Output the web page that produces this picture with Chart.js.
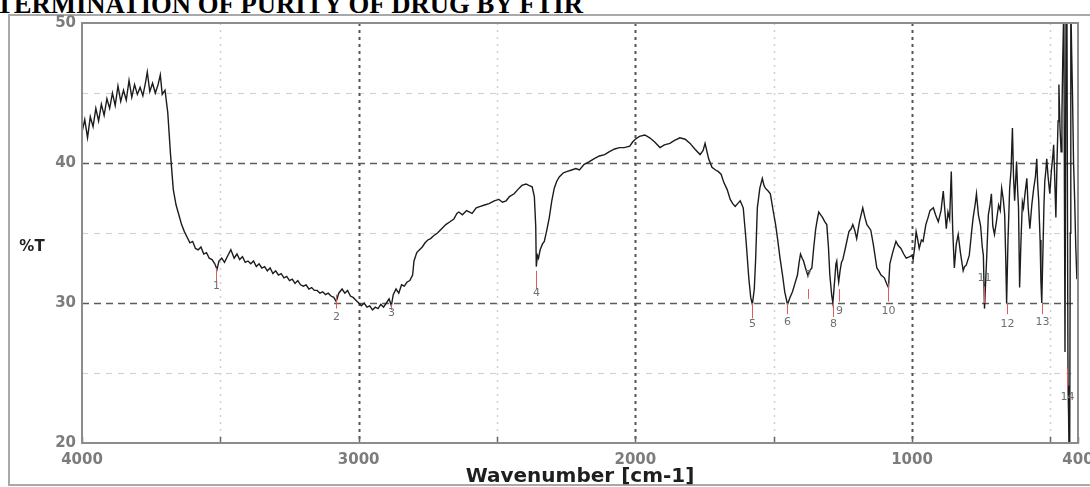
<!DOCTYPE html>
<html>
<head>
<meta charset="utf-8">
<script src="https://cdn.jsdelivr.net/npm/chart.js@4.4.0/dist/chart.umd.min.js"></script>
<style>
  html, body { margin: 0; padding: 0; background: #ffffff; }
  body { width: 1090px; height: 487px; overflow: hidden; position: relative; }
  #frame { position: absolute; left: 8px; top: 14px; width: 1100px; height: 472px; border: 2px solid #a9a9a9; box-sizing: border-box; }
  #title { position: absolute; right: 507px; top: -9px; width: max-content; white-space: nowrap;
           font-family: "Liberation Serif", "Times New Roman", serif; font-weight: bold; font-size: 26.7px; line-height: 26px; color: #000; }
  #chartBox { position: absolute; left: 0; top: 0; width: 1090px; height: 487px; }
</style>
</head>
<body>
<div id="frame"></div>
<div id="title">DETERMINATION OF PURITY OF DRUG BY FTIR</div>
<div id="chartBox"><canvas id="c" width="1090" height="487"></canvas></div>
<script>
// ---- data ----
const wavenumbers = [
  4000,3990,3980,3970,3960,3950,3940,3930,3920,3910,
  3900,3890,3880,3870,3860,3850,3840,3830,3820,3810,
  3800,3790,3780,3770,3764,3755,3745,3735,3725,3717,
  3710,3700,3690,3680,3670,3660,3650,3640,3630,3620,
  3610,3600,3590,3580,3570,3560,3550,3540,3530,3520,
  3512,3505,3495,3485,3475,3462,3450,3440,3430,3420,
  3410,3400,3390,3380,3370,3360,3350,3340,3330,3320,
  3310,3300,3290,3280,3270,3260,3250,3240,3230,3220,
  3210,3200,3190,3180,3170,3160,3150,3140,3130,3120,
  3110,3100,3090,3081,3072,3060,3050,3040,3030,3020,
  3010,3000,2990,2980,2970,2960,2950,2940,2930,2920,
  2910,2900,2890,2882,2875,2865,2855,2845,2835,2825,
  2815,2805,2800,2790,2780,2770,2760,2750,2740,2729,
  2715,2700,2685,2670,2656,2645,2638,2625,2610,2590,
  2575,2560,2545,2529,2510,2493,2480,2467,2455,2438,
  2425,2410,2395,2385,2373,2365,2360,2358,2354,2350,
  2344,2336,2329,2320,2311,2302,2293,2284,2275,2260,
  2246,2230,2215,2202,2185,2166,2150,2130,2111,2095,
  2075,2057,2040,2020,2010,2000,1985,1966,1957,1948,
  1930,1911,1895,1875,1860,1839,1820,1802,1785,1766,
  1755,1748,1735,1723,1710,1701,1690,1680,1668,1657,
  1648,1639,1630,1621,1610,1600,1590,1583,1577,1570,
  1565,1559,1550,1541,1535,1530,1520,1512,1501,1493,
  1486,1477,1468,1460,1450,1441,1432,1423,1414,1408,
  1403,1397,1392,1385,1377,1370,1362,1355,1348,1342,
  1337,1330,1323,1315,1308,1302,1297,1290,1286,1280,
  1275,1272,1268,1265,1260,1255,1250,1240,1228,1220,
  1214,1207,1200,1190,1178,1170,1163,1156,1149,1140,
  1127,1120,1112,1100,1090,1085,1080,1070,1058,1050,
  1040,1030,1021,1010,1000,996,990,985,980,974,
  966,960,950,942,935,923,915,905,895,887,
  882,876,870,864,858,853,847,840,833,825,
  815,810,804,793,785,779,772,767,760,752,
  746,742,738,731,724,718,713,708,702,695,
  687,681,676,670,665,661,658,653,647,642,
  637,633,629,626,622,618,615,611,606,601,
  597,591,585,580,574,567,560,554,549,546,
  542,537,534,531,527,523,520,516,513,508,
  502,496,491,488,484,480,476,472,469,465,
  461,458,455,452,451,449,447,445,443,440,
  438,436,434,432,430,428,426,423,420,416,
  412,408,404,400
];
const transmittance = [
  42.2,43.1,41.8,43.3,42.6,43.9,43.0,44.2,43.4,44.6,
  43.9,45.0,44.1,45.5,44.4,45.2,44.5,45.9,44.7,45.6,
  44.9,45.4,44.8,45.8,46.5,45.1,45.7,45.0,45.6,46.3,
  44.9,45.2,43.6,40.6,38.1,37.0,36.3,35.6,35.1,34.7,
  34.3,34.4,33.9,33.8,34.0,33.5,33.6,33.2,33.1,32.8,
  32.4,33.0,33.2,32.9,33.3,33.8,33.2,33.5,33.1,33.3,
  32.9,33.0,32.8,33.0,32.6,32.8,32.5,32.6,32.3,32.5,
  32.1,32.3,32.0,32.1,31.8,31.9,31.6,31.7,31.4,31.6,
  31.3,31.2,31.3,31.0,31.1,30.9,30.9,30.7,30.8,30.6,
  30.7,30.5,30.4,30.1,30.7,31.0,30.7,30.9,30.5,30.4,
  30.2,30.0,29.8,30.0,29.7,29.8,29.5,29.7,29.6,29.9,
  29.7,30.0,30.3,29.8,30.6,31.0,30.7,31.3,31.2,31.5,
  31.6,32.0,33.0,33.6,33.8,34.0,34.3,34.5,34.6,34.8,
  35.0,35.3,35.6,35.8,36.0,36.4,36.5,36.3,36.6,36.4,
  36.8,36.9,37.0,37.1,37.3,37.4,37.2,37.3,37.6,37.8,
  38.1,38.4,38.5,38.4,38.3,37.6,35.5,32.6,33.4,33.2,
  33.8,34.2,34.4,35.2,36.1,37.3,38.2,38.7,39.0,39.3,
  39.4,39.5,39.6,39.5,39.9,40.1,40.3,40.5,40.6,40.8,
  41.0,41.1,41.1,41.2,41.5,41.7,41.9,42.0,41.9,41.8,
  41.5,41.1,41.3,41.4,41.6,41.8,41.7,41.4,41.0,40.6,
  40.9,41.4,40.3,39.7,39.5,39.4,39.2,38.6,38.1,37.4,
  37.1,36.9,37.1,37.3,36.8,34.5,31.8,30.4,29.9,31.0,
  33.2,36.8,38.2,38.9,38.4,38.2,38.0,37.8,36.5,35.6,
  34.6,33.2,32.0,30.8,29.9,30.4,30.8,31.4,32.0,32.9,
  33.5,33.2,33.0,32.5,32.0,32.3,32.5,34.0,35.3,36.0,
  36.5,36.3,36.1,35.8,35.6,34.0,32.0,30.5,30.0,31.5,
  32.8,33.0,32.0,31.5,32.3,32.9,33.1,34.0,35.1,35.3,
  35.6,35.2,34.6,35.8,36.8,36.1,35.6,35.4,35.2,34.2,
  32.5,32.3,32.0,31.8,31.3,31.1,32.8,33.6,34.4,34.1,
  33.9,33.5,33.2,33.3,33.4,33.1,34.0,35.1,34.6,33.9,
  34.5,34.4,35.6,36.1,36.6,36.8,36.3,35.8,36.6,38.0,
  36.8,35.3,36.5,36.0,39.4,35.3,32.5,34.2,34.9,33.6,
  32.3,32.6,32.7,33.4,35.0,36.1,37.0,37.8,36.3,35.5,
  34.0,33.4,29.6,32.8,36.3,37.0,37.8,35.5,34.9,35.8,
  37.0,36.6,38.2,37.4,36.3,33.0,30.0,34.5,38.2,39.5,
  42.5,39.0,37.3,38.5,40.1,38.0,36.8,31.1,34.5,37.2,
  36.8,37.9,38.9,36.8,35.3,37.0,38.2,39.0,40.3,38.6,
  37.3,34.5,31.5,30.0,33.5,37.0,38.7,39.5,40.3,39.0,
  37.8,39.5,40.5,41.3,38.8,36.1,40.0,43.0,45.6,42.5,
  40.8,43.5,47.5,50.5,51.0,38.0,26.5,40.0,52.0,51.0,
  36.0,24.1,22.0,18.5,19.0,35.0,51.5,48.0,45.0,40.0,
  37.3,34.0,31.7,33.0
];

// axis ticks and grid values
const xTickValues = [4000, 3500, 3000, 2500, 2000, 1500, 1000, 500, 400];
const xLabelValues = [4000, 3000, 2000, 1000, 400];
const xMajorGrid = [3000, 2000, 1000];
const xMinorGrid = [3500, 2500, 1500, 500];
const yLabelValues = [20, 30, 40, 50];
const yMajorGrid = [30, 40];
const yMinorGrid = [25, 35, 45];

// peak annotations
const peakNumbers     = ['1','2','3','4','5','6','7','8','9','10','11','12','13','14'];
const peakWavenumbers = [3515, 3081, 2882, 2358, 1577, 1450, 1377, 1286, 1265, 1085, 738, 658, 531, 440];
const peakLineTop     = [32.5, 30.6, 29.9, 32.3, 30.0, 30.0, 31.0, 30.0, 31.0, 31.4, 31.2, 30.0, 30.0, 25.3];
const peakLineBottom  = [31.5, 29.6, 29.5, 31.0, 28.9, 29.2, 30.3, 29.0, 30.1, 30.1, 30.0, 29.2, 29.2, 23.9];
const peakLabelValues = [31.2, 29.0, 29.3, 30.7, 28.5, 28.6, 32.0, 28.5, 29.4, 29.4, 31.8, 28.5, 28.6, 23.3];

const points = wavenumbers.map((w, i) => ({ x: w, y: transmittance[i] }));

function vline(ctx, x, y0, y1, color, width, dash) {
  ctx.save();
  ctx.strokeStyle = color; ctx.lineWidth = width; ctx.setLineDash(dash);
  ctx.beginPath(); ctx.moveTo(x, y0); ctx.lineTo(x, y1); ctx.stroke();
  ctx.restore();
}
function hline(ctx, y, x0, x1, color, width, dash) {
  ctx.save();
  ctx.strokeStyle = color; ctx.lineWidth = width; ctx.setLineDash(dash);
  ctx.beginPath(); ctx.moveTo(x0, y); ctx.lineTo(x1, y); ctx.stroke();
  ctx.restore();
}

const decorPlugin = {
  id: 'ftirDecor',
  beforeDatasetsDraw(chart) {
    const ctx = chart.ctx, a = chart.chartArea;
    const xs = chart.scales.x, ys = chart.scales.y;
    yMinorGrid.forEach(v => hline(ctx, Math.round(ys.getPixelForValue(v)) + 0.5, a.left, a.right, '#d2d2d2', 1.2, [6, 6]));
    yMajorGrid.forEach(v => hline(ctx, Math.round(ys.getPixelForValue(v)) + 0.5, a.left, a.right, '#5c5c5c', 1.3, [7, 5]));
    xMinorGrid.forEach(v => vline(ctx, Math.round(xs.getPixelForValue(v)) + 0.5, a.top, a.bottom, '#d0d0d0', 1.5, [2, 5]));
    xMajorGrid.forEach(v => vline(ctx, Math.round(xs.getPixelForValue(v)) + 0.5, a.top, a.bottom, '#555555', 2, [3, 4]));
    xTickValues.forEach(v => vline(ctx, Math.round(xs.getPixelForValue(v)) + 0.5, a.bottom, a.bottom - 6, '#666666', 1.5, []));
  },
  afterDatasetsDraw(chart) {
    const ctx = chart.ctx, a = chart.chartArea;
    const xs = chart.scales.x, ys = chart.scales.y;
    // peak markers
    ctx.save();
    ctx.font = '11px "DejaVu Sans", sans-serif';
    ctx.textAlign = 'center';
    ctx.textBaseline = 'middle';
    peakNumbers.forEach((n, i) => {
      const px = Math.round(xs.getPixelForValue(peakWavenumbers[i])) + 0.5;
      vline(ctx, px, ys.getPixelForValue(peakLineTop[i]), ys.getPixelForValue(peakLineBottom[i]), '#e25b5b', 1, []);
      ctx.fillStyle = '#707070';
      ctx.fillText(n, px, ys.getPixelForValue(peakLabelValues[i]));
    });
    ctx.restore();
    // plot frame
    ctx.save();
    ctx.strokeStyle = '#8c8c8c'; ctx.lineWidth = 2; ctx.setLineDash([]);
    ctx.strokeRect(a.left, a.top, a.right - a.left, a.bottom - a.top);
    ctx.restore();
    // y axis title
    ctx.save();
    ctx.font = 'bold 15px "DejaVu Sans", sans-serif';
    ctx.fillStyle = '#222222';
    ctx.textAlign = 'center';
    ctx.textBaseline = 'middle';
    ctx.fillText('%T', 32, 247);
    ctx.restore();
  }
};

new Chart(document.getElementById('c'), {
  type: 'line',
  data: {
    datasets: [{
      data: points,
      borderColor: '#1c1c1c',
      borderWidth: 1.4,
      pointRadius: 0,
      tension: 0,
      fill: false
    }]
  },
  options: {
    responsive: false,
    animation: false,
    parsing: true,
    layout: { autoPadding: false, padding: { left: 0, right: 12, top: 23, bottom: 0 } },
    plugins: { legend: { display: false }, tooltip: { enabled: false }, title: { display: false } },
    scales: {
      x: {
        type: 'linear',
        reverse: true,
        min: 400,
        max: 4000,
        afterBuildTicks: (s) => { s.ticks = xTickValues.map(v => ({ value: v })); },
        afterFit: (s) => { s.height = 44; s.paddingLeft = 0; s.paddingRight = 0; },
        grid: { display: false, drawTicks: false },
        border: { display: false },
        ticks: {
          autoSkip: false, maxRotation: 0, padding: 8,
          color: '#7c7c7c',
          font: { family: '"DejaVu Sans", sans-serif', size: 15, weight: 'bold' },
          callback: (v) => xLabelValues.includes(v) ? String(v) : ''
        },
        title: {
          display: true,
          text: 'Wavenumber [cm-1]',
          color: '#1e1e1e',
          font: { family: '"DejaVu Sans", sans-serif', size: 20, weight: 'bold', lineHeight: 1 },
          padding: { top: 0, bottom: 0 }
        }
      },
      y: {
        type: 'linear',
        min: 20,
        max: 50,
        afterBuildTicks: (s) => { s.ticks = yLabelValues.map(v => ({ value: v })); },
        afterFit: (s) => { s.width = 82; s.paddingTop = 0; s.paddingBottom = 0; },
        grid: { display: false, drawTicks: false },
        border: { display: false },
        ticks: {
          padding: 6,
          color: '#7c7c7c',
          font: { family: '"DejaVu Sans", sans-serif', size: 15, weight: 'bold' },
          callback: (v) => String(v)
        }
      }
    }
  },
  plugins: [decorPlugin]
});
</script>
</body>
</html>
